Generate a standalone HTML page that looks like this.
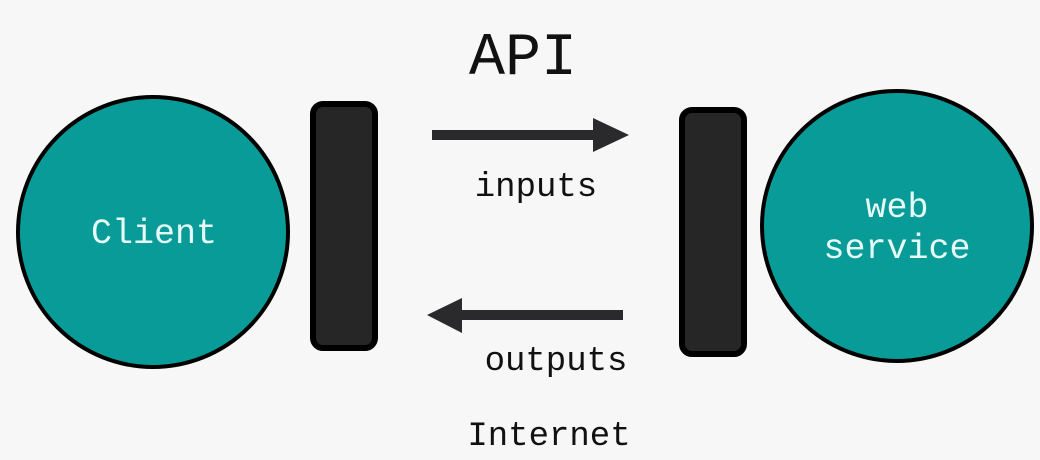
<!DOCTYPE html>
<html><head><style>
html,body{margin:0;padding:0;background:#f7f7f8;}
svg{display:block;}
text{font-family:"Liberation Mono",monospace;}
</style></head><body>
<svg width="1040" height="460" viewBox="0 0 1040 460">
<rect width="1040" height="460" fill="#f7f7f8"/>
<circle cx="153" cy="232" r="135" fill="#089b98" stroke="#000" stroke-width="4"/>
<circle cx="897" cy="226" r="135" fill="#089b98" stroke="#000" stroke-width="4"/>
<rect x="313" y="104" width="62" height="244" rx="10" fill="#262626" stroke="#000" stroke-width="6"/>
<rect x="682" y="110" width="62" height="244" rx="10" fill="#262626" stroke="#000" stroke-width="6"/>
<rect x="432" y="130" width="164" height="10" fill="#2a2a2c"/>
<polygon points="593,118 629,135 593,152" fill="#2a2a2c"/>
<rect x="460" y="310" width="163" height="10" fill="#2a2a2c"/>
<polygon points="462,298 427,315 462,333" fill="#2a2a2c"/>
<text x="523" y="74" font-size="60" text-anchor="middle" fill="#111">API</text>
<text x="536" y="196" font-size="34" text-anchor="middle" fill="#111">inputs</text>
<text x="556" y="370" font-size="34" text-anchor="middle" fill="#111">outputs</text>
<text x="549" y="445" font-size="34" text-anchor="middle" fill="#111">Internet</text>
<text x="154" y="243" font-size="35" text-anchor="middle" fill="#e6fbf8">Client</text>
<text x="897" y="217" font-size="35" text-anchor="middle" fill="#e6fbf8">web</text>
<text x="897" y="258" font-size="35" text-anchor="middle" fill="#e6fbf8">service</text>
</svg>
</body></html>
